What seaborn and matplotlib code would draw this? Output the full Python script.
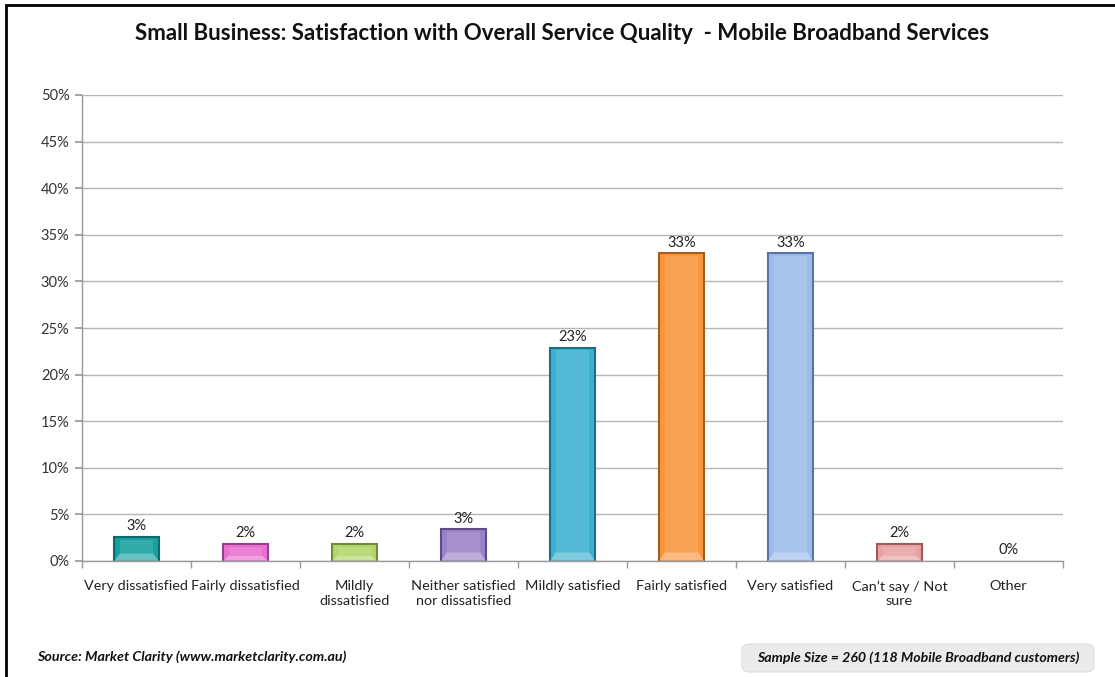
import matplotlib
matplotlib.use("Agg")
import matplotlib.pyplot as plt
import seaborn as sns
import pandas as pd
import numpy as np
from matplotlib.patches import FancyBboxPatch, Rectangle, Polygon

categories = ["Very dissatisfied", "Fairly dissatisfied", "Mildly\ndissatisfied",
              "Neither satisfied\nnor dissatisfied", "Mildly satisfied", "Fairly satisfied",
              "Very satisfied", "Can\u2019t say / Not\nsure", "Other"]
values = [2.6, 1.8, 1.8, 3.4, 22.9, 33.0, 33.0, 1.8, 0.0]
value_labels = ["3%", "2%", "2%", "3%", "23%", "33%", "33%", "2%", "0%"]
colors = ["#16a0a0", "#ea6fd0", "#b2d66a", "#9a82c6", "#3cb0d0", "#f8963e",
          "#9cbbea", "#e8a2a2", "#cccccc"]
edge_colors = ["#0d6b6b", "#a03c8c", "#6f8c34", "#5e4a86", "#1d6f88", "#a85a18",
               "#5a74a4", "#9c5a5a", "#888888"]
y_ticks = [0, 5, 10, 15, 20, 25, 30, 35, 40, 45, 50]

sns.set_theme(style="white")
plt.rcParams['font.family'] = ['Lato', 'DejaVu Sans']

df = pd.DataFrame({"cat": categories, "val": values})

fig = plt.figure(figsize=(11.15, 6.77), dpi=100)
ax = fig.add_axes([82/1115, 1-561/677, (1063-82)/1115, (561-95)/677])

sns.barplot(data=df, x="cat", y="val", hue="cat", palette=colors, legend=False,
            width=0.41, ax=ax, saturation=1)

for i, p in enumerate(ax.patches):
    h = p.get_height()
    x0 = p.get_x(); w = p.get_width()
    if h > 0:
        p.set_edgecolor(edge_colors[i])
        p.set_linewidth(1.5)
        inset = w * 0.12
        bev = min(0.9, h * 0.3)
        ax.add_patch(Polygon([(x0, 0), (x0 + w, 0), (x0 + w - inset, bev), (x0 + inset, bev)],
                             closed=True, facecolor="white", alpha=0.35, linewidth=0, zorder=3))
        ax.add_patch(Rectangle((x0 + inset, bev), w - 2*inset, max(h - bev - 0.3, 0.05),
                               facecolor="white", alpha=0.12, linewidth=0, zorder=3))
    else:
        p.set_visible(False)
    ax.text(x0 + w/2, h + 0.4, value_labels[i], ha="center", va="bottom",
            fontsize=10.5, color="#222222")

ax.set_ylim(0, 50)
ax.set_xlim(-0.5, len(categories) - 0.5)
ax.set_yticks(y_ticks)
ax.set_yticklabels([f"{t}%" for t in y_ticks], fontsize=10.5, color="#333333")
ax.yaxis.grid(True, color="#b5b5b5", linewidth=1)
ax.set_axisbelow(True)
ax.tick_params(axis="y", length=5, color="#999999", left=True, pad=4)
ax.set_xticks(range(len(categories)))
ax.set_xticklabels(categories, fontsize=10.4, color="#222222", linespacing=1.25)
ax.set_xticks(np.arange(-0.5, len(categories), 1), minor=True)
ax.tick_params(axis="x", which="major", length=0, pad=14)
ax.tick_params(axis="x", which="minor", length=5, color="#999999", bottom=True)
ax.set_xlabel(""); ax.set_ylabel("")
for s in ["top", "right"]:
    ax.spines[s].set_visible(False)
for s in ["left", "bottom"]:
    ax.spines[s].set_color("#999999")
    ax.spines[s].set_linewidth(1)

fig.text(562/1115, 1-34/677, "Small Business: Satisfaction with Overall Service Quality  - Mobile Broadband Services",
         ha="center", va="center", fontsize=16, fontweight="bold", color="#111111")

fig.text(37/1115, 1-657/677, "Source: Market Clarity (www.marketclarity.com.au)",
         ha="left", va="center", fontsize=10.3, fontweight="bold", style="italic", color="#111111")

box = FancyBboxPatch((742/1115, 1-672/677), (1094-742)/1115, 28/677,
                     boxstyle="round,pad=0,rounding_size=0.008", transform=fig.transFigure,
                     facecolor="#ebebeb", edgecolor="#dddddd", linewidth=0.8)
fig.patches.append(box)
fig.text(918/1115, 1-658/677, "Sample Size = 260 (118 Mobile Broadband customers)",
         ha="center", va="center", fontsize=10.2, fontweight="bold", style="italic", color="#111111")

border = Rectangle((6/1115, -0.05), 1.2, 1 - 5/677 + 0.05, transform=fig.transFigure,
                   facecolor="none", edgecolor="black", linewidth=2)
fig.patches.append(border)

fig.savefig("out.png", dpi=100)
